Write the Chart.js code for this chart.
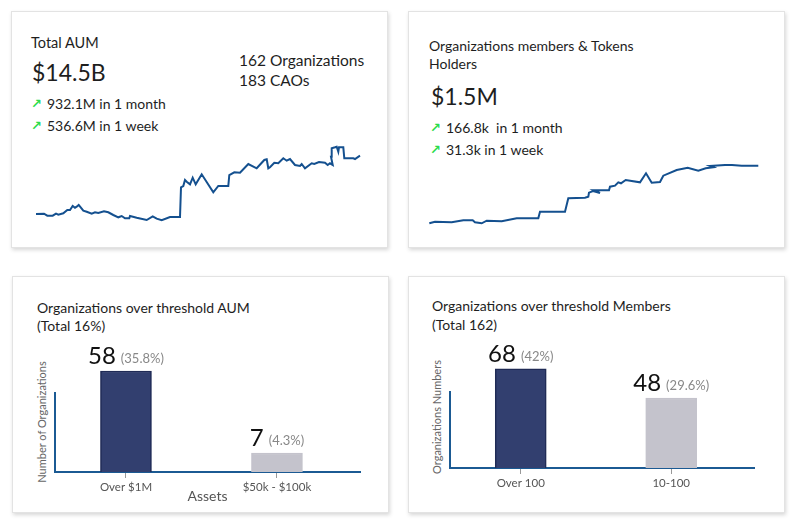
<!DOCTYPE html>
<html>
<head>
<meta charset="utf-8">
<script src="https://cdn.jsdelivr.net/npm/chart.js@4.4.1/dist/chart.umd.min.js"></script>
<style>
body{margin:0;width:800px;height:530px;background:#fff;font-family:Lato,sans-serif;color:#1e1e1e;position:relative;overflow:hidden}
.card{position:absolute;background:#fff;border:1px solid #e3e3e3;box-shadow:1px 2px 4px rgba(0,0,0,0.16)}
.t{position:absolute;white-space:nowrap;line-height:1}
.up{position:absolute;color:#2bdc4c;font-family:"DejaVu Sans";font-size:13px;font-weight:bold;line-height:1}
canvas{position:absolute}
.ytitle{position:absolute;white-space:nowrap;font-size:11px;color:#666;line-height:1;transform:translate(-50%,-50%) rotate(-90deg)}
</style>
</head>
<body>

<div class="card" style="left:11px;top:11px;width:375px;height:235px"></div>
<div class="card" style="left:408px;top:11px;width:375px;height:235px"></div>
<div class="card" style="left:12px;top:276px;width:375px;height:235px"></div>
<div class="card" style="left:408px;top:276px;width:375px;height:235px"></div>

<!-- card 1 -->
<div class="t" style="left:31px;top:36px;font-size:14.5px">Total AUM</div>
<div class="t" style="left:32px;top:61px;font-size:23px">$14.5B</div>
<div class="up" style="left:31px;top:97px">↗</div>
<div class="t" style="left:47px;top:97px;font-size:14px">932.1M in 1 month</div>
<div class="up" style="left:31px;top:119px">↗</div>
<div class="t" style="left:47px;top:119px;font-size:14px">536.6M in 1 week</div>
<div class="t" style="left:239px;top:53px;font-size:15.5px">162 Organizations</div>
<div class="t" style="left:239px;top:73px;font-size:15.5px">183 CAOs</div>

<!-- card 2 -->
<div class="t" style="left:429px;top:39px;font-size:14px">Organizations members &amp; Tokens</div>
<div class="t" style="left:429px;top:57px;font-size:14px">Holders</div>
<div class="t" style="left:431px;top:85px;font-size:23px">$1.5M</div>
<div class="up" style="left:430px;top:121px">↗</div>
<div class="t" style="left:446px;top:121px;font-size:14px">166.8k&nbsp; in 1 month</div>
<div class="up" style="left:430px;top:143px">↗</div>
<div class="t" style="left:446px;top:143px;font-size:14px">31.3k in 1 week</div>

<!-- card 3 -->
<div class="t" style="left:37px;top:301px;font-size:14px">Organizations over threshold AUM</div>
<div class="t" style="left:37px;top:319px;font-size:14px">(Total 16%)</div>
<div class="ytitle" style="left:40.5px;top:421.7px">Number of Organizations</div>

<!-- card 4 -->
<div class="t" style="left:432px;top:299px;font-size:14px">Organizations over threshold Members</div>
<div class="t" style="left:432px;top:318px;font-size:14px">(Total 162)</div>
<div class="ytitle" style="left:435.5px;top:416.7px">Organizations Numbers</div>

<canvas id="aumChart" width="344" height="94" style="left:26px;top:137px"></canvas>
<canvas id="membersChart" width="350" height="78" style="left:419px;top:155px"></canvas>
<canvas id="aumBars" width="350" height="180" style="left:20px;top:330px"></canvas>
<canvas id="memberBars" width="350" height="180" style="left:415px;top:330px"></canvas>

<script>
// Total AUM trend (time step, relative level)
let aumDays = [36,44,47.3,52.7,56,58.3,63.3,67.3,70,72.7,75,76.7,78.7,80.7,83.3,86.7,91.7,95,98.3,104,108.3,113.3,118.3,121.7,125,129.3,130,136.7,146.7,152.7,156.7,161.7,170,180,181,183.3,185,186.7,190,192.7,195.7,201.7,213.3,218.3,228.3,229.3,234.3,240,248.3,256.7,264.3,266.7,268.3,270,274.3,278.3,283.3,286.7,290,295,300,301.7,305,311.7,314.3,319,325,327.7,330,332.7,331,331.7,335,336.7,338.3,339,343.3,344.3,348.3,353.3,355,360];
let aumLevel = [16,16.3,14.3,14.3,16.3,15.3,16.7,20,20,24,22.3,23.3,25,22.7,19.3,18.3,16.3,17.7,17,18.7,17.7,15,12.7,14,11.7,11.7,14,12.3,10,13.7,11.3,9.7,13,13,42.7,44,50,48.3,45.7,52.3,45.7,55.7,37.7,44,44,55,57.7,57.3,66,61.7,70,70.7,61.7,62.7,67.3,66.7,71.7,69.3,71,65,64,66,61.7,66.7,66,68,67.3,65,66.7,65,73.3,81.7,82.7,83.3,78.3,82.7,82.7,71.7,71.7,71.7,71,74.3];

// Members & token holders trend
let memberDays = [429.3,435,451.7,463.3,472.7,475,481.7,486.7,501.7,516.7,538.3,540,565,568.3,585,588.3,589,593,600,594,609,610,615,618.3,621,625.7,640,646,651.7,660,663.3,676.7,687.7,698.3,705.7,713.3,710,725,732,741.7,758.3];
let memberLevel = [6.7,8.3,7.7,9.7,9.7,7.7,6.7,9.3,8.7,11.7,11.7,18.3,18.3,31.7,32.3,33.3,37.3,39,37,39.7,39.7,43.3,44.3,47.7,46.7,50,47.7,56.7,47.3,48,54.3,60,62.3,59.3,61.7,62.7,64,65,65,64.3,64.3];

// threshold bars
let aumCats = ["Over $1M", "$50k - $100k"];
let aumCounts = [58, 7];
let aumPct = ["35.8%", "4.3%"];

let memberCats = ["Over 100", "10-100"];
let memberCounts = [68, 48];
let memberPct = ["42%", "29.6%"];

const lineBlue = "#14508f";
const axisBlue = "#1b5a93";

function lineChart(id, xs, ys, pad){
const pts = xs.map((x,i)=>({x:x, y:ys[i]}));
return new Chart(document.getElementById(id),{
type:"line",
data:{datasets:[{data:pts,borderColor:lineBlue,borderWidth:2,pointRadius:0,tension:0,fill:false,clip:false}]},
options:{
responsive:false,animation:false,
layout:{padding:pad},
plugins:{legend:{display:false},tooltip:{enabled:false}},
scales:{
x:{type:"linear",display:false,min:Math.min(...xs),max:Math.max(...xs)},
y:{display:false,min:Math.min(...ys),max:Math.max(...ys)}
}
}
});
}

lineChart("aumChart", aumDays, aumLevel, {left:10,right:10,top:9.7,bottom:10.7});
lineChart("membersChart", memberDays, memberLevel, {left:10.3,right:10.7,top:10,bottom:9.7});

// number + percentage over each bar
const barLabels = {
id:"barLabels",
afterDatasetsDraw(chart){
const ctx = chart.ctx;
const pct = chart.options.plugins.barLabels.pct;
const meta = chart.getDatasetMeta(0);
meta.data.forEach((bar,i)=>{
const big = String(chart.data.datasets[0].data[i].y);
const small = "(" + pct[i] + ")";
ctx.save();
ctx.font = "24px Lato";
const w1 = ctx.measureText(big).width;
ctx.font = "13px Lato";
const w2 = ctx.measureText(small).width;
const gap = 5;
let x = bar.x - (w1+gap+w2)/2;
const y = bar.y - 7;
ctx.textBaseline = "alphabetic";
ctx.textAlign = "left";
ctx.fillStyle = "#111";
ctx.font = "24px Lato";
ctx.fillText(big, x, y);
ctx.fillStyle = "#888";
ctx.font = "13px Lato";
ctx.fillText(small, x+w1+gap, y-1);
ctx.restore();
});
}
};

function barChart(id, cats, counts, pct, yMin, yMax, pad, xTitle){
return new Chart(document.getElementById(id),{
type:"bar",
data:{datasets:[{
data:counts.map((v,i)=>({x:i,y:v})),
backgroundColor:["#323f6f","#c4c3cc"],
borderColor:["#1f2a55","#c4c3cc"],
borderWidth:1.5,
barThickness:51,
base:yMin,
clip:false
}]},
options:{
responsive:false,animation:false,
layout:{padding:pad},
plugins:{legend:{display:false},tooltip:{enabled:false},barLabels:{pct:pct}},
scales:{
x:{
type:"linear",min:-0.47,max:1.55,offset:false,
afterBuildTicks:s=>{ s.ticks = cats.map((c,i)=>({value:i})); },
afterFit:s=>{ s.height = 34; },
grid:{display:true,offset:false,drawOnChartArea:false,drawTicks:true,tickLength:6,color:"#999"},
border:{color:axisBlue,width:2},
ticks:{color:"#555",font:{family:"Lato",size:11.5},padding:2,callback:v=>cats[v]},
title:{display:!!xTitle,text:xTitle||"",color:"#555",font:{family:"Lato",size:14},padding:{top:0,bottom:1}}
},
y:{
min:yMin,max:yMax,
afterFit:s=>{ s.width = 35; },
grid:{display:false},
border:{color:axisBlue,width:2},
ticks:{display:false}
}
}
},
plugins:[barLabels]
});
}

barChart("aumBars", aumCats, aumCounts, aumPct, -4.8, 44.3, {left:0,right:10,top:63,bottom:4}, "Assets");
barChart("memberBars", memberCats, memberCounts, memberPct, 0, 52.1, {left:0,right:11,top:62,bottom:8}, "");
</script>
</body>
</html>
